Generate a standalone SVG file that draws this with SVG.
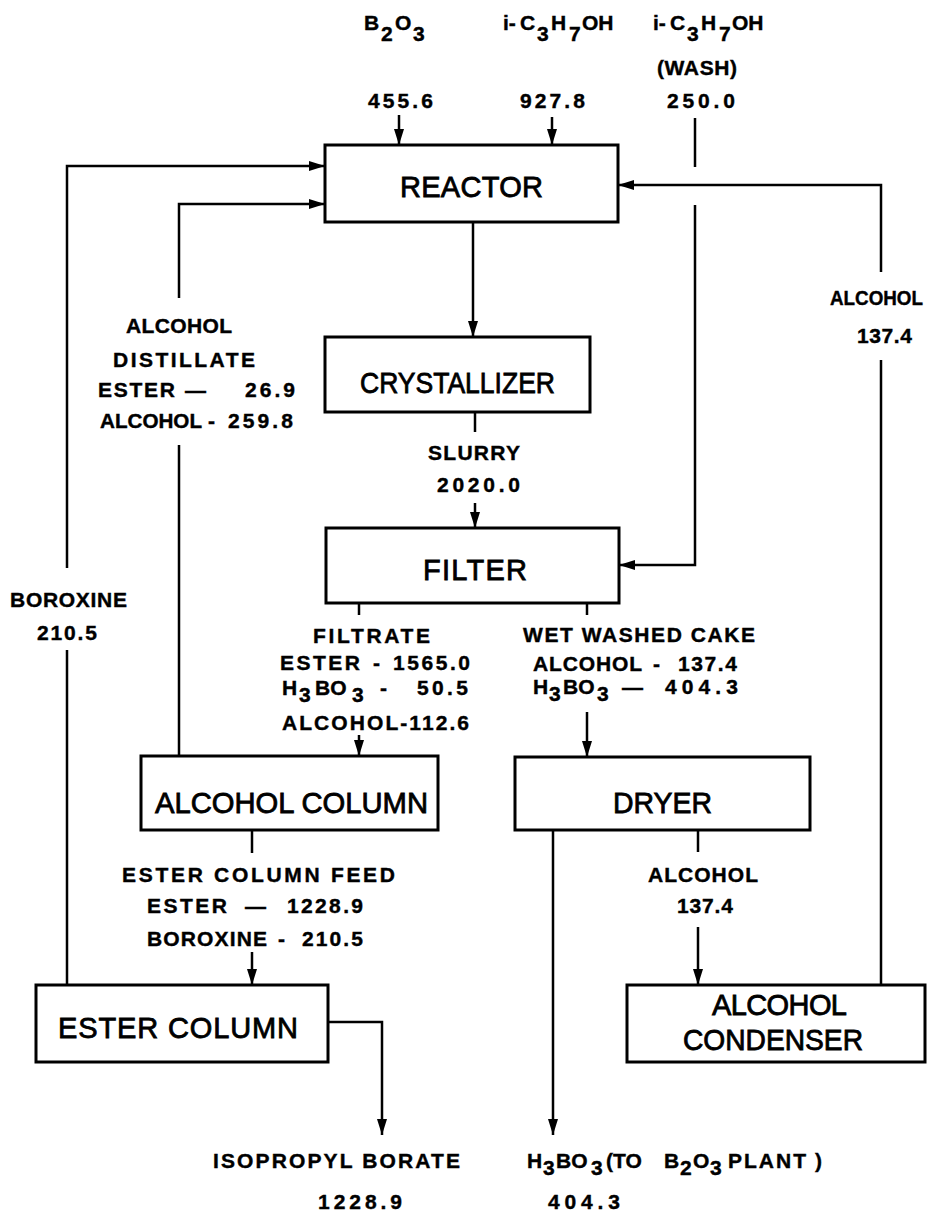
<svg xmlns="http://www.w3.org/2000/svg" width="935" height="1213" viewBox="0 0 935 1213">
<defs>
<style>
.box{fill:#fff;stroke:#000;stroke-width:3}
.ln{fill:none;stroke:#000;stroke-width:2.5}
.arr{marker-end:url(#ah)}
.lbl{font-family:"Liberation Sans",Arial,sans-serif;font-weight:bold;font-size:21px;fill:#000;stroke:#000;stroke-width:0.4}
.big{font-family:"Liberation Sans",Arial,sans-serif;font-size:29px;fill:#000;stroke:#000;stroke-width:0.8}
</style>
<marker id="ah" markerUnits="userSpaceOnUse" markerWidth="17" markerHeight="11" refX="16" refY="5.5" orient="auto"><path d="M0,0.5 L16,5.5 L0,10.5 Z" fill="#000"/></marker>
</defs>
<rect width="935" height="1213" fill="#fff"/>

<g id="connectors">
<path class="ln arr" d="M399,115 V145"/>
<path class="ln arr" d="M552,117 V145"/>
<path class="ln" d="M695,118 V167"/>
<path class="ln arr" d="M695,205 V565 H619"/>
<path class="ln arr" d="M881,272 V185 H618"/>
<path class="ln" d="M881,360 V985"/>
<path class="ln" d="M67,985 V650"/>
<path class="ln arr" d="M67,568 V166 H325"/>
<path class="ln" d="M179,756 V445"/>
<path class="ln arr" d="M179,298 V204 H325"/>
<path class="ln arr" d="M473,222 V337"/>
<path class="ln" d="M475,412 V432"/>
<path class="ln arr" d="M475,503 V528"/>
<path class="ln" d="M359,603 V615"/>
<path class="ln arr" d="M359,735 V756"/>
<path class="ln" d="M587,603 V615"/>
<path class="ln arr" d="M587,712 V757"/>
<path class="ln" d="M252,830 V853"/>
<path class="ln arr" d="M252,952 V985"/>
<path class="ln arr" d="M328,1022 H382 V1135"/>
<path class="ln arr" d="M553,830 V1135"/>
<path class="ln" d="M698,830 V852"/>
<path class="ln arr" d="M698,927 V985"/>
</g>

<g id="reactor">
<rect class="box" x="325" y="145" width="293" height="77"/>
<text class="big" x="400" y="197" textLength="143" lengthAdjust="spacing">REACTOR</text>
</g>
<g id="crystallizer">
<rect class="box" x="325" y="337" width="265" height="75"/>
<text class="big" x="360" y="393" textLength="195" lengthAdjust="spacingAndGlyphs">CRYSTALLIZER</text>
</g>
<g id="filter">
<rect class="box" x="326" y="528" width="293" height="75"/>
<text class="big" x="423" y="580" textLength="104" lengthAdjust="spacing">FILTER</text>
</g>
<g id="alcohol-column">
<rect class="box" x="141" y="756" width="297" height="74"/>
<text class="big" x="155" y="813" textLength="273" lengthAdjust="spacingAndGlyphs">ALCOHOL COLUMN</text>
</g>
<g id="dryer">
<rect class="box" x="515" y="757" width="295" height="73"/>
<text class="big" x="613" y="813" textLength="99" lengthAdjust="spacingAndGlyphs">DRYER</text>
</g>
<g id="ester-column">
<rect class="box" x="36" y="985" width="292" height="77"/>
<text class="big" x="58" y="1038" textLength="240" lengthAdjust="spacing">ESTER COLUMN</text>
</g>
<g id="alcohol-condenser">
<rect class="box" x="627" y="985" width="298" height="77"/>
<text class="big" x="712" y="1015" textLength="135" lengthAdjust="spacing">ALCOHOL</text>
<text class="big" x="683" y="1050" textLength="180" lengthAdjust="spacingAndGlyphs">CONDENSER</text>
</g>

<g id="labels">
<text class="lbl" y="30"><tspan x="364">B</tspan><tspan x="381" dy="11">2</tspan><tspan x="395" dy="-11">O</tspan><tspan x="413" dy="11">3</tspan></text>
<text class="lbl" x="368" y="108" textLength="65" lengthAdjust="spacing">455.6</text>
<text class="lbl" y="30"><tspan x="503">i-</tspan><tspan x="520">C</tspan><tspan x="537" dy="11">3</tspan><tspan x="551" dy="-11">H</tspan><tspan x="569" dy="11">7</tspan><tspan x="582" dy="-11">OH</tspan></text>
<text class="lbl" x="520" y="108" textLength="65" lengthAdjust="spacing">927.8</text>
<text class="lbl" y="30"><tspan x="653">i-</tspan><tspan x="670">C</tspan><tspan x="687" dy="11">3</tspan><tspan x="701" dy="-11">H</tspan><tspan x="719" dy="11">7</tspan><tspan x="732" dy="-11">OH</tspan></text>
<text class="lbl" x="657" y="75" textLength="80" lengthAdjust="spacing">(WASH)</text>
<text class="lbl" x="667" y="108" textLength="68" lengthAdjust="spacing">250.0</text>

<text class="lbl" x="830" y="305" textLength="93" lengthAdjust="spacingAndGlyphs">ALCOHOL</text>
<text class="lbl" x="857" y="343" textLength="55" lengthAdjust="spacing">137.4</text>

<text class="lbl" x="126" y="333" textLength="106" lengthAdjust="spacing">ALCOHOL</text>
<text class="lbl" x="113" y="367" textLength="142" lengthAdjust="spacing">DISTILLATE</text>
<text class="lbl" y="397"><tspan x="98" textLength="77" lengthAdjust="spacing">ESTER</tspan><tspan x="185">—</tspan><tspan x="245" textLength="50" lengthAdjust="spacing">26.9</tspan></text>
<text class="lbl" y="428"><tspan x="100" textLength="102" lengthAdjust="spacingAndGlyphs">ALCOHOL</tspan><tspan x="208">-</tspan><tspan x="228" textLength="65" lengthAdjust="spacing">259.8</tspan></text>

<text class="lbl" x="428" y="460" textLength="92" lengthAdjust="spacing">SLURRY</text>
<text class="lbl" x="437" y="492" textLength="83" lengthAdjust="spacing">2020.0</text>

<text class="lbl" x="10" y="607" textLength="117" lengthAdjust="spacing">BOROXINE</text>
<text class="lbl" x="37" y="640" textLength="60" lengthAdjust="spacing">210.5</text>

<text class="lbl" x="313" y="643" textLength="117" lengthAdjust="spacing">FILTRATE</text>
<text class="lbl" y="670"><tspan x="280" textLength="80" lengthAdjust="spacing">ESTER</tspan><tspan x="373">-</tspan><tspan x="393" textLength="77" lengthAdjust="spacing">1565.0</tspan></text>
<text class="lbl" y="695"><tspan x="282">H</tspan><tspan x="299" dy="7">3</tspan><tspan x="315" dy="-7">BO</tspan><tspan x="352" dy="7">3</tspan><tspan x="380" dy="-7">-</tspan><tspan x="417" textLength="51" lengthAdjust="spacing">50.5</tspan></text>
<text class="lbl" x="282" y="730" textLength="187" lengthAdjust="spacing">ALCOHOL-112.6</text>

<text class="lbl" x="523" y="642" textLength="232" lengthAdjust="spacing">WET WASHED CAKE</text>
<text class="lbl" y="671"><tspan x="533" textLength="109" lengthAdjust="spacing">ALCOHOL</tspan><tspan x="653">-</tspan><tspan x="678" textLength="59" lengthAdjust="spacing">137.4</tspan></text>
<text class="lbl" y="694"><tspan x="533">H</tspan><tspan x="549" dy="7">3</tspan><tspan x="563" dy="-7">BO</tspan><tspan x="597" dy="7">3</tspan><tspan x="622" dy="-7">—</tspan><tspan x="665" textLength="73" lengthAdjust="spacing">404.3</tspan></text>

<text class="lbl" x="122" y="882" textLength="273" lengthAdjust="spacing">ESTER COLUMN FEED</text>
<text class="lbl" y="913"><tspan x="147" textLength="80" lengthAdjust="spacing">ESTER</tspan><tspan x="245">—</tspan><tspan x="287" textLength="76" lengthAdjust="spacing">1228.9</tspan></text>
<text class="lbl" y="946"><tspan x="147" textLength="120" lengthAdjust="spacing">BOROXINE</tspan><tspan x="278">-</tspan><tspan x="302" textLength="61" lengthAdjust="spacing">210.5</tspan></text>

<text class="lbl" x="648" y="882" textLength="110" lengthAdjust="spacing">ALCOHOL</text>
<text class="lbl" x="677" y="913" textLength="56" lengthAdjust="spacing">137.4</text>

<text class="lbl" x="213" y="1168" textLength="247" lengthAdjust="spacing">ISOPROPYL BORATE</text>
<text class="lbl" x="318" y="1209" textLength="84" lengthAdjust="spacing">1228.9</text>

<text class="lbl" y="1168"><tspan x="527">H</tspan><tspan x="543" dy="7">3</tspan><tspan x="556" dy="-7">BO</tspan><tspan x="591" dy="7">3</tspan><tspan x="606" dy="-7">(TO</tspan><tspan x="664">B</tspan><tspan x="680" dy="7">2</tspan><tspan x="693" dy="-7">O</tspan><tspan x="710" dy="7">3</tspan><tspan x="728" dy="-7" textLength="78" lengthAdjust="spacing">PLANT</tspan><tspan x="815">)</tspan></text>
<text class="lbl" x="548" y="1209" textLength="72" lengthAdjust="spacing">404.3</text>
</g>
</svg>
